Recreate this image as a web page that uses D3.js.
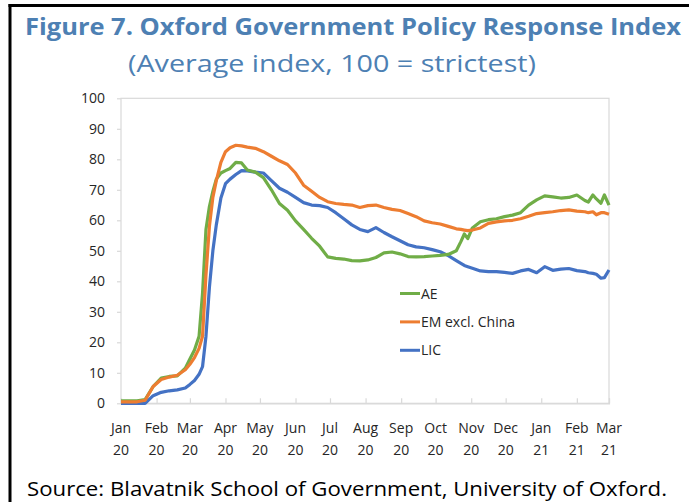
<!DOCTYPE html>
<html>
<head>
<meta charset="utf-8">
<script src="https://cdn.jsdelivr.net/npm/d3@7"></script>
<style>
  body { margin: 0; background: #fff; }
  svg { display: block; }
</style>
</head>
<body>
<svg id="chart" width="689" height="502"></svg>
<script>
// chart data

var dates = [
  "2020-01-01","2020-01-15","2020-01-22","2020-01-29","2020-02-05","2020-02-12","2020-02-19","2020-02-26",
  "2020-03-01","2020-03-05","2020-03-09","2020-03-12","2020-03-15","2020-03-18","2020-03-21","2020-03-24",
  "2020-03-28","2020-04-01","2020-04-05","2020-04-10","2020-04-15","2020-04-20","2020-04-27","2020-05-04",
  "2020-05-11","2020-05-18","2020-05-25","2020-06-01","2020-06-08","2020-06-15","2020-06-22","2020-06-29",
  "2020-07-06","2020-07-13","2020-07-20","2020-07-27","2020-08-03","2020-08-10","2020-08-17","2020-08-24",
  "2020-08-31","2020-09-07","2020-09-14","2020-09-21","2020-09-28","2020-10-05","2020-10-12","2020-10-19",
  "2020-10-23","2020-10-26","2020-10-29","2020-11-02","2020-11-09","2020-11-16","2020-11-23","2020-11-30",
  "2020-12-07","2020-12-14","2020-12-21","2020-12-28","2021-01-04","2021-01-11","2021-01-18","2021-01-25",
  "2021-02-01","2021-02-08","2021-02-11","2021-02-15","2021-02-18","2021-02-22","2021-02-25","2021-03-01"
];

var ae = [
  0.8, 0.8, 1.2, 5.5, 8.3, 8.8, 9.0, 11.5,
  14.5, 17.5, 22, 36, 57, 64.5, 69.5, 73.5,
  75.5, 76.3, 77, 79, 78.8, 76.5, 75.8, 74,
  70, 65.5, 63.3, 59.8, 57, 54.1, 51.5, 48,
  47.5, 47.3, 46.8, 46.7, 47, 47.8, 49.3, 49.6,
  49, 48.1, 48, 48.1, 48.3, 48.5, 48.8, 50,
  53, 55.5, 54, 57.5, 59.5, 60.2, 60.5, 61.2,
  61.7, 62.5, 65, 66.7, 68, 67.7, 67.3, 67.5,
  68.3, 66.5, 66, 68.3, 67, 65.6, 68.3, 65
];

var em = [
  0.5, 0.5, 1, 5.5, 7.8, 8.6, 9.2, 11,
  12.8, 15, 18, 22, 42, 58, 67.5, 73,
  79, 82.5, 83.8, 84.6, 84.4, 84, 83.6, 82.5,
  81, 79.5, 78.3, 75.5, 71.5, 69.5, 67.5, 66.1,
  65.5, 65.2, 65, 64.2, 64.8, 65, 64.2, 63.6,
  63.2, 62.2, 61.2, 59.8, 59.2, 58.8, 58, 57.2,
  57, 56.8, 56.6, 56.8, 57.5, 59, 59.5, 59.8,
  60, 60.5, 61.3, 62.2, 62.5, 62.8, 63.2, 63.4,
  63, 62.8, 62.5, 62.8, 61.8, 62.5, 62.5, 62
];

var lic = [
  0, 0, 0, 2.5, 3.6, 4.1, 4.4, 5,
  6.2, 7.5, 9.5, 12, 22, 38, 50, 58.5,
  67.3, 72, 73.5, 75, 76.3, 76.2, 75.8, 75.5,
  73, 70.5, 69.2, 67.5, 65.8, 65, 64.8, 64.2,
  62.5, 60.5, 58.5, 57, 56.3, 57.6, 56, 54.6,
  53.3, 52, 51.3, 51, 50.4, 49.7, 48.4, 46.8,
  45.9, 45.2, 44.8, 44.3, 43.4, 43.2, 43.2, 42.9,
  42.6, 43.4, 43.9, 42.8, 44.8, 43.6, 44, 44.2,
  43.5, 43.2, 42.8, 42.6, 42.3, 41, 41.2, 43.7
];

var seriesNames = ["AE", "EM excl. China", "LIC"];
var seriesColors = ["#70ad47", "#ed7d31", "#4472c4"];

var yTicks = [0, 10, 20, 30, 40, 50, 60, 70, 80, 90, 100];
var xTickDates = [
  "2020-01-01","2020-02-01","2020-03-01","2020-04-01","2020-05-01","2020-06-01","2020-07-01",
  "2020-08-01","2020-09-01","2020-10-01","2020-11-01","2020-12-01","2021-01-01","2021-02-01","2021-03-01"
];
var xTickMonths = ["Jan","Feb","Mar","Apr","May","Jun","Jul","Aug","Sep","Oct","Nov","Dec","Jan","Feb","Mar"];
var xTickYears = ["20","20","20","20","20","20","20","20","20","20","20","20","21","21","21"];

var titleText = "Figure 7. Oxford Government Policy Response Index";
var subtitleText = "(Average index, 100 = strictest)";
var sourceText = "Source: Blavatnik School of Government, University of Oxford.";

// setup
var parseDate = d3.timeParse("%Y-%m-%d");
var svg = d3.select("#chart");
var blue = "#4d80b3";
var textColor = "#262626";
var gridGray = "#d9d9d9";

var x = d3.scaleTime()
  .domain([parseDate("2020-01-01"), parseDate("2021-03-01")])
  .range([121, 609]);
var y = d3.scaleLinear()
  .domain([0, 100])
  .range([403.3, 98.3]);

// frame lines
svg.append("line").attr("x1", 10).attr("x2", 10).attr("y1", 4).attr("y2", 502)
  .attr("stroke", "#000").attr("stroke-width", 3);
svg.append("line").attr("x1", 8.5).attr("x2", 689).attr("y1", 5.5).attr("y2", 5.5)
  .attr("stroke", "#000").attr("stroke-width", 3);

// titles
svg.append("text")
  .attr("x", 25).attr("y", 35)
  .attr("textLength", 656).attr("lengthAdjust", "spacingAndGlyphs")
  .style("font-family", "'Open Sans', sans-serif")
  .style("font-weight", "700")
  .style("font-size", "24px")
  .style("fill", blue)
  .text(titleText);

svg.append("text")
  .attr("x", 128).attr("y", 72)
  .attr("textLength", 408).attr("lengthAdjust", "spacingAndGlyphs")
  .style("font-family", "'Open Sans', sans-serif")
  .style("font-size", "23px")
  .style("fill", blue)
  .text(subtitleText);

// plot border
svg.append("rect")
  .attr("x", 121).attr("y", 98.3)
  .attr("width", 488).attr("height", 305)
  .attr("fill", "none").attr("stroke", gridGray).attr("stroke-width", 1.2);

// y axis
var yAxis = svg.append("g")
  .attr("transform", "translate(121,0)")
  .call(d3.axisLeft(y).tickValues(yTicks).tickSize(4).tickPadding(12));
yAxis.select(".domain").remove();
yAxis.selectAll("line").attr("stroke", gridGray).attr("stroke-width", 1.2);
yAxis.selectAll("text")
  .style("font-family", "'Open Sans', sans-serif")
  .style("font-size", "14px")
  .style("fill", textColor);

// x axis, ticks point up into the plot
var xAxis = svg.append("g")
  .attr("transform", "translate(0,403.3)")
  .call(d3.axisBottom(x).tickValues(xTickDates.map(parseDate)).tickSize(-5).tickFormat(""));
xAxis.select(".domain").attr("stroke", gridGray).attr("stroke-width", 1.2);
xAxis.selectAll("line").attr("stroke", gridGray).attr("stroke-width", 1.2);

var xLabels = svg.append("g")
  .style("font-family", "'Open Sans', sans-serif")
  .style("font-size", "14px")
  .style("fill", textColor)
  .attr("text-anchor", "middle");
xTickDates.forEach(function(d, i) {
  var t = xLabels.append("text");
  t.append("tspan").attr("x", x(parseDate(d))).attr("y", 433).text(xTickMonths[i]);
  t.append("tspan").attr("x", x(parseDate(d))).attr("y", 455).text(xTickYears[i]);
});

// lines
var allSeries = [ae, em, lic];
var line = d3.line()
  .x(function(d, i) { return x(parseDate(dates[i])); })
  .y(function(d) { return y(d); });

// draw LIC first so AE / EM sit on top like the original
[2, 0, 1].forEach(function(k) {
  svg.append("path")
    .datum(allSeries[k])
    .attr("d", line)
    .attr("fill", "none")
    .attr("stroke", seriesColors[k])
    .attr("stroke-width", 3.2)
    .attr("stroke-linejoin", "round");
});

// legend
var legend = svg.append("g");
seriesNames.forEach(function(name, i) {
  var ly = 293.5 + i * 28.4;
  legend.append("line")
    .attr("x1", 400).attr("x2", 420).attr("y1", ly).attr("y2", ly)
    .attr("stroke", seriesColors[i]).attr("stroke-width", 3);
  legend.append("text")
    .attr("x", 421).attr("y", ly + 5)
    .style("font-family", "'Open Sans', sans-serif")
    .style("font-size", "14px")
    .style("fill", textColor)
    .text(name);
});

// source
svg.append("text")
  .attr("x", 27).attr("y", 496)
  .attr("textLength", 640).attr("lengthAdjust", "spacingAndGlyphs")
  .style("font-family", "'Open Sans', sans-serif")
  .style("font-size", "20px")
  .style("fill", "#000")
  .text(sourceText);
</script>
</body>
</html>
